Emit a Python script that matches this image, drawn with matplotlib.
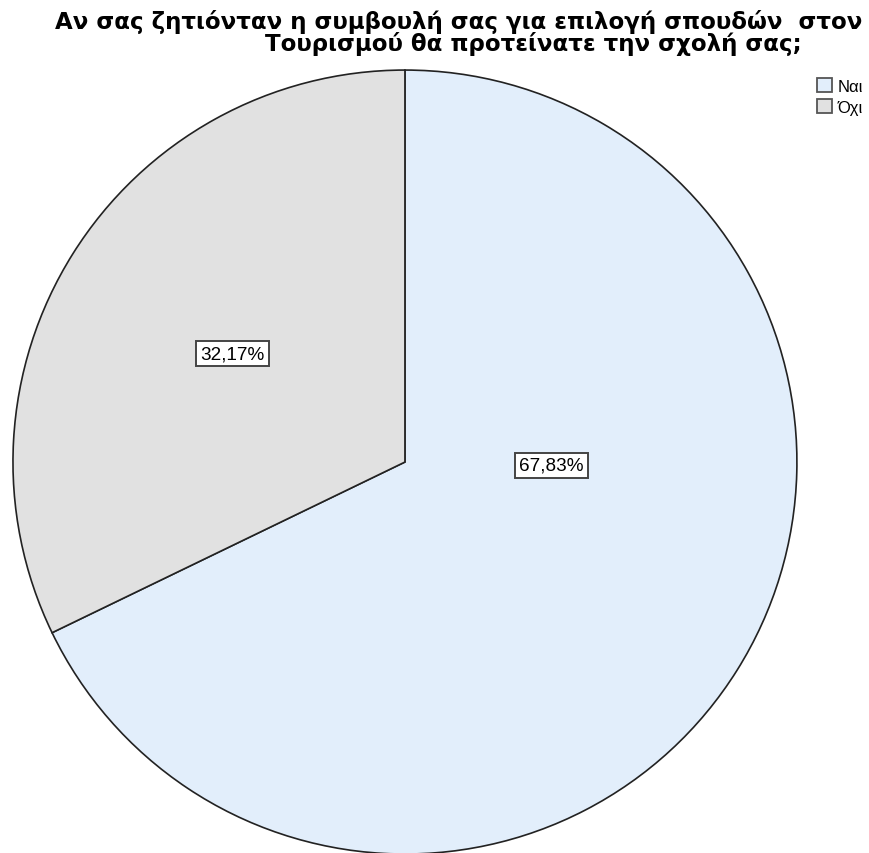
import matplotlib
matplotlib.use("Agg")
import matplotlib.pyplot as plt
from matplotlib.patches import Patch

categories = ["Ναι", "Όχι"]
percentages = [67.83, 32.17]
colors = ["#e2eefb", "#e1e1e1"]
title_line1 = "Αν σας ζητιόνταν η συμβουλή σας για επιλογή σπουδών  στον"
title_line2 = "Τουρισμού θα προτείνατε την σχολή σας;"

plt.rcParams["font.family"] = ["Liberation Sans", "DejaVu Sans"]

fig = plt.figure(figsize=(8.7, 8.54), dpi=100)
ax = fig.add_axes([0.0149, -0.0012, 0.9011, 0.918])

wedges, texts, autotexts = ax.pie(
    percentages,
    colors=colors,
    startangle=90,
    counterclock=False,
    autopct=lambda p: f"{p:.2f}%".replace(".", ","),
    pctdistance=0.52,
    wedgeprops=dict(edgecolor="#222222", linewidth=1.2),
    textprops=dict(fontsize=13.6, color="black"),
)
ax.set_xlim(-1, 1)
ax.set_ylim(-1, 1)
ax.set_aspect("equal")

# SPSS puts the big slice's label near the centre-right
autotexts[0].set_position((0.373, -0.008))
for t in autotexts:
    t.set_bbox(dict(facecolor="white", edgecolor="#444444", linewidth=1.4,
                    boxstyle="square,pad=0.22"))

title_font = dict(family="DejaVu Sans", fontsize=16.5, fontweight="bold",
                  ha="left", va="baseline")
fig.text(55 / 870, 1 - 29 / 854, title_line1, **title_font)
fig.text(265 / 870, 1 - 51 / 854, title_line2, **title_font)

handles = [Patch(facecolor=c, edgecolor="#555555", linewidth=1.3) for c in colors]
fig.legend(handles, categories, loc="upper left", bbox_to_anchor=(0.939, 0.907),
           frameon=False, fontsize=12, handlelength=0.9, handleheight=0.9,
           handletextpad=0.35, labelspacing=0.3, borderpad=0, borderaxespad=0)

fig.savefig("out.png", dpi=100)
